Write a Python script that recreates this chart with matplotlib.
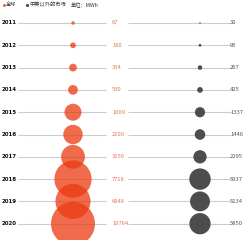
import numpy as np
import matplotlib.pyplot as plt

plt.rcParams['font.family'] = ['Noto Sans CJK SC', 'DejaVu Sans']

# Data
years = ['2011', '2012', '2013', '2014', '2015', '2016', '2017', '2018', '2019', '2020']
global_vals = [67, 180, 334, 530, 1609, 2100, 3156, 7718, 6848, 10764]
other_vals = [30, 95, 267, 425, 1337, 1446, 2295, 5937, 5134, 5850]

orange = '#EA3A10'
gray = '#474747'

fig = plt.figure(figsize=(2.46, 2.40), dpi=100)
ax = fig.add_axes([0, 0, 1, 1])
ax.set_xlim(0, 246)
ax.set_ylim(240, 0)
ax.axis('off')

rows = 23 + np.arange(len(years)) * 22.3

# background lines
ax.hlines(rows, 18, 106, color='#cccccc', lw=0.8, zorder=1)
ax.hlines(rows, 128, 231, color='#cccccc', lw=0.8, zorder=1)

# bubbles (area proportional to value)
ax.scatter(np.full(len(rows), 73), rows, s=np.array(global_vals) * 0.093,
           color=orange, alpha=0.75, lw=0, zorder=2)
ax.scatter(np.full(len(rows), 200), rows, s=np.array(other_vals) * 0.04,
           color=gray, alpha=0.97, lw=0, zorder=2)

for y, yr, g, o in zip(rows, years, global_vals, other_vals):
    ax.text(2, y, yr, fontsize=4, fontweight='bold', color='#111111',
            va='center', ha='left', family='DejaVu Sans')
    ax.text(112, y, str(g), fontsize=4.2, color='#E07A5A', va='center', ha='left')
    ax.text(230, y, str(o), fontsize=4.2, color='#555555', va='center', ha='left')

# legend line
ax.scatter([3.5], [5], s=5, color='#EE6A4A', lw=0)
ax.text(6, 5, '全球', fontsize=3.8, va='center', ha='left', color='#333333')
ax.scatter([26.5], [5], s=5, color=gray, lw=0)
ax.text(29, 5, '中美以外的市场', fontsize=3.8, va='center', ha='left', color='#333333')
ax.text(71, 5, '单位：MWh', fontsize=3.8, va='center', ha='left', color='#333333')

fig.savefig('out.png', dpi=100)
